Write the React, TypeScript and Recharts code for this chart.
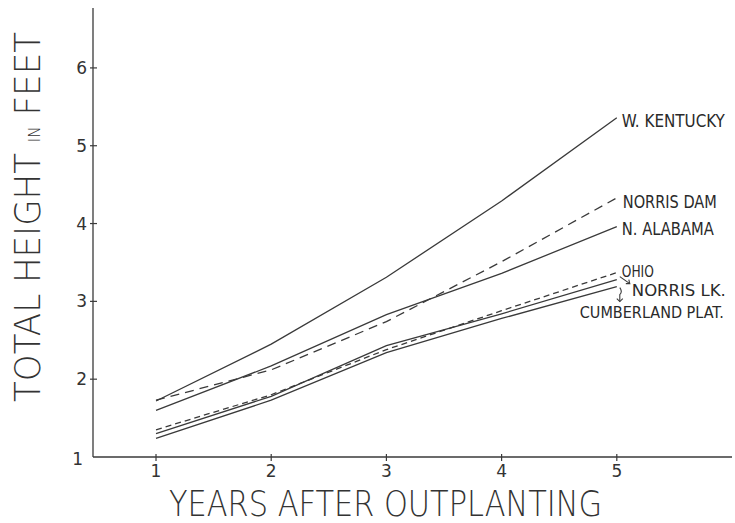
import React from "react";
import { LineChart, Line, XAxis, YAxis, LabelList, Label } from "recharts";

const years = [1, 2, 3, 4, 5];
const wKentucky = [1.72, 2.45, 3.31, 4.29, 5.36];
const norrisDam = [1.73, 2.12, 2.74, 3.51, 4.33];
const nAlabama = [1.6, 2.17, 2.83, 3.36, 3.96];
const ohio = [1.35, 1.8, 2.38, 2.88, 3.37];
const norrisLk = [1.3, 1.78, 2.43, 2.84, 3.28];
const cumberland = [1.24, 1.73, 2.34, 2.78, 3.19];

const xTicks = [1, 2, 3, 4, 5];
const yTicks = [1, 2, 3, 4, 5, 6];

const data = years.map((yr, i) => ({
  year: yr,
  wKentucky: wKentucky[i],
  norrisDam: norrisDam[i],
  nAlabama: nAlabama[i],
  ohio: ohio[i],
  norrisLk: norrisLk[i],
  cumberland: cumberland[i],
}));

const INK = "#3a3a3a";
const LABEL_FONT = "'DejaVu Sans Condensed', 'DejaVu Sans', sans-serif";
const TITLE_FONT = "'DejaVu Sans', sans-serif";

// end-of-line label placement (relative to the last point)
const endLabels: Record<string, { text: string; dx: number; dy: number; len: number; size: number; arrow?: string }> = {
  wKentucky: { text: "W. KENTUCKY", dx: 5, dy: 9, len: 103, size: 18 },
  norrisDam: { text: "NORRIS DAM", dx: 6, dy: 10, len: 94, size: 18 },
  nAlabama: { text: "N. ALABAMA", dx: 5, dy: 8, len: 92, size: 18 },
  ohio: { text: "OHIO", dx: 5, dy: 4, len: 32, size: 16 },
  norrisLk: { text: "NORRIS LK.", dx: 15, dy: 16, len: 94, size: 16 },
  cumberland: { text: "CUMBERLAND PLAT.", dx: -37, dy: 31, len: 144, size: 16 },
};
const arrows: Record<string, string> = { norrisLk: "nl", cumberland: "cp" };

function makeEndLabel(key: string) {
  const cfg = endLabels[key];
  const arrow = arrows[key];
  // eslint-disable-next-line @typescript-eslint/no-explicit-any
  return (props: any) => {
    const { x, y, index } = props;
    if (index !== years.length - 1 || x === undefined) return null;
    return (
      <g>
        {arrow === "nl" && (
          <g stroke={INK} strokeWidth={1.1} fill="none">
            <path d={`M${x + 3},${y - 3} L${x + 13},${y + 4}`} />
            <path d={`M${x + 9},${y + 4} L${x + 13},${y + 4} L${x + 12},${y}`} />
          </g>
        )}
        {arrow === "cp" && (
          <g stroke={INK} strokeWidth={1.1} fill="none">
            <path d={`M${x + 3},${y + 1} Q${x + 6},${y + 5} ${x + 3},${y + 8} L${x + 3},${y + 15}`} />
            <path d={`M${x},${y + 12} L${x + 3},${y + 15} L${x + 6},${y + 12}`} />
          </g>
        )}
        <text
          x={x + cfg.dx}
          y={y + cfg.dy}
          fontFamily={LABEL_FONT}
          fontSize={cfg.size}
          fill="#2a2a2a"
          textLength={cfg.len}
          lengthAdjust="spacingAndGlyphs"
        >
          {cfg.text}
        </text>
      </g>
    );
  };
}

// eslint-disable-next-line @typescript-eslint/no-explicit-any
function XTick(props: any) {
  const { x, y, payload } = props;
  return (
    <g>
      <line x1={x} x2={x} y1={y - 3} y2={y + 4} stroke={INK} strokeWidth={1.2} />
      <text x={x} y={y + 20} textAnchor="middle" fontFamily={TITLE_FONT} fontSize={17} fill="#333">
        {payload.value}
      </text>
    </g>
  );
}

// eslint-disable-next-line @typescript-eslint/no-explicit-any
function YTick(props: any) {
  const { x, y, payload } = props;
  const isBase = payload.value === 1;
  return (
    <g>
      {!isBase && <line x1={x - 3} x2={x + 4} y1={y} y2={y} stroke={INK} strokeWidth={1.2} />}
      <text
        x={isBase ? x - 10 : x - 6}
        y={isBase ? y + 8 : y + 6}
        textAnchor="end"
        fontFamily={TITLE_FONT}
        fontSize={17}
        fill="#333"
      >
        {payload.value}
      </text>
    </g>
  );
}

export default function App() {
  const series = [
    { key: "wKentucky", dash: undefined },
    { key: "norrisDam", dash: "9 6" },
    { key: "nAlabama", dash: undefined },
    { key: "ohio", dash: "6 4" },
    { key: "norrisLk", dash: undefined },
    { key: "cumberland", dash: undefined },
  ];

  return (
    <div style={{ position: "absolute", left: 0, top: 0, width: 735, height: 523, background: "#fff" }}>
      <LineChart width={735} height={523} data={data} margin={{ top: 8, right: 3, bottom: 0, left: 0 }}>
        <XAxis
          type="number"
          dataKey="year"
          domain={[0.453, 6.0]}
          ticks={xTicks}
          allowDataOverflow
          height={66}
          tickSize={0}
          tickMargin={0}
          tickLine={false}
          tick={<XTick />}
          axisLine={{ stroke: INK, strokeWidth: 1.3 }}
        >
          <Label
            content={(p: any) => {
              const vb = p.viewBox || { x: 93, y: 457 };
              return (
                <text
                  x={vb.x + 76}
                  y={vb.y + 59}
                  fontFamily={TITLE_FONT}
                  fontWeight={200}
                  fontSize={36}
                  fill="#333"
                  textLength={433}
                  lengthAdjust="spacingAndGlyphs"
                >
                  YEARS AFTER OUTPLANTING
                </text>
              );
            }}
          />
        </XAxis>
        <YAxis
          type="number"
          domain={[1, 6.77]}
          ticks={yTicks}
          allowDataOverflow
          width={93}
          tickSize={0}
          tickMargin={0}
          tickLine={false}
          tick={<YTick />}
          axisLine={{ stroke: INK, strokeWidth: 1.3 }}
        >
          <Label
            content={() => (
              <text
                x={40}
                y={217}
                transform="rotate(-90, 40, 217)"
                textAnchor="middle"
                fontFamily={TITLE_FONT}
                fontWeight={200}
                fontSize={36}
                fill="#333"
                textLength={370}
                lengthAdjust="spacingAndGlyphs"
              >
                TOTAL HEIGHT <tspan fontSize={16}>IN</tspan> FEET
              </text>
            )}
          />
        </YAxis>
        {series.map((s) => (
          <Line
            key={s.key}
            dataKey={s.key}
            type="linear"
            stroke={INK}
            strokeWidth={1.3}
            strokeDasharray={s.dash}
            dot={false}
            activeDot={false}
            isAnimationActive={false}
          >
            <LabelList dataKey={s.key} content={makeEndLabel(s.key)} />
          </Line>
        ))}
      </LineChart>
    </div>
  );
}
